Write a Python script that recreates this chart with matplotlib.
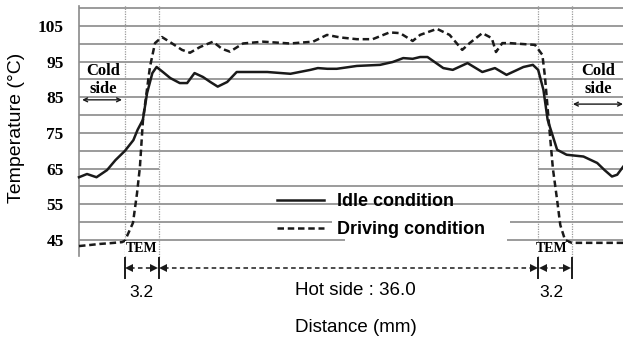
import matplotlib
matplotlib.use("Agg")
import matplotlib.pyplot as plt

# ---------------- data ----------------
# distance (mm, 0 = start of left TEM) and temperature (°C)
idle_x = [-4.36, -3.6, -2.7, -1.7, -0.9, 0.0, 0.8, 1.2, 1.7, 2.1, 2.6, 3.0, 3.6, 4.3,
          5.2, 5.9, 6.6, 7.4, 8.1, 8.8, 9.7, 10.6, 13.5, 15.7, 17.6, 18.3, 19.2, 20.1,
          22.0, 24.2, 25.4, 26.4, 27.3, 28.0, 28.7, 30.2, 31.1, 32.5, 33.9, 35.1, 36.2,
          37.8, 38.7, 39.2, 39.7, 40.1, 41.0, 41.9, 43.5, 44.8, 45.5, 46.2, 46.7, 47.25]
idle_t = [62.6, 63.5, 62.6, 64.6, 67.4, 70.0, 73.0, 75.9, 78.7, 86.2, 91.8, 93.5, 92.1, 90.4,
          89.0, 89.0, 91.8, 90.7, 89.3, 88.0, 89.3, 92.1, 92.1, 91.6, 92.7, 93.2, 93.0, 93.0,
          93.8, 94.1, 94.9, 96.0, 95.8, 96.3, 96.3, 93.2, 92.7, 94.6, 92.1, 93.2, 91.3,
          93.5, 94.1, 92.7, 87.1, 78.7, 70.3, 68.9, 68.4, 66.6, 64.6, 62.8, 63.3, 65.5]

drive_x = [-4.36, -3.32, -2.37, -1.42, -0.28, 0.0, 0.76, 1.14, 1.42, 1.71, 2.37, 2.85, 3.51,
           4.27, 5.41, 6.17, 7.12, 8.35, 9.2, 9.96, 11.2, 13.1, 15.65, 17.84, 19.17, 20.4,
           22.0, 23.5, 25.1, 26.1, 27.3, 28.0, 29.6, 30.8, 32.0, 32.7, 33.9, 34.8, 35.2,
           35.8, 36.5, 38.9, 39.6, 39.85, 40.3, 40.6, 41.0, 41.3, 41.75, 42.4, 47.25]
drive_t = [43.3, 43.6, 43.9, 44.1, 44.4, 44.8, 49.8, 58.0, 65.5, 78.7, 93.5, 100.2, 101.9,
           100.5, 98.3, 97.5, 99.1, 100.6, 98.6, 97.8, 100.1, 100.6, 100.1, 100.6, 102.5, 101.8,
           101.3, 101.3, 103.2, 103.0, 100.8, 102.5, 104.2, 102.5, 98.3, 100.2, 103.0, 101.6, 97.7,
           100.2, 100.2, 99.7, 96.9, 90.7, 75.0, 65.0, 56.2, 49.2, 45.0, 44.2, 44.2]

series_labels = ["Idle condition", "Driving condition"]
ytick_values = [45, 55, 65, 75, 85, 95, 105]
tem_bounds = [0.0, 3.2, 39.2, 42.4]          # TEM / hot side boundaries (mm)
seg_labels = ["3.2", "Hot side : 36.0", "3.2"]

SERIF = ["Liberation Serif", "DejaVu Serif"]
SANS = ["Liberation Sans", "DejaVu Sans"]

# ---------------- figure ----------------
fig = plt.figure(figsize=(6.23, 3.39), dpi=100)
ax = fig.add_axes([79 / 623, 0.2447, 1 - 79 / 623, 0.7365])
XMIN, XMAX = -4.36, 47.25
ax.set_xlim(XMIN, XMAX)
ax.set_ylim(40.5, 110.5)

# horizontal grid lines (some partly missing as in the scan)
grid_c = "#808080"
for lvl in range(70, 111, 5):
    ax.hlines(lvl, XMIN, XMAX, color=grid_c, lw=1.1, zorder=1)
for lvl, segs in {65: [(XMIN, 3.2), (39.2, XMAX)],
                  60: [(XMIN, XMAX)],
                  55: [(XMIN, XMAX)],
                  50: [(XMIN, 19.6), (36.5, XMAX)],
                  45: [(XMIN, 20.9), (36.2, XMAX)]}.items():
    for a, b in segs:
        ax.hlines(lvl, a, b, color=grid_c, lw=1.1, zorder=1)

# vertical dotted boundaries
for xb in tem_bounds:
    ax.plot([xb, xb], [40.2, 110.9], color="#9a9a9a", lw=0.9, ls=(0, (1, 1)),
            zorder=1, clip_on=False)

# curves
l1, = ax.plot(idle_x, idle_t, color="#1a1a1a", lw=1.8, zorder=3,
              solid_joinstyle="round", clip_on=False)
l2, = ax.plot(drive_x, drive_t, color="#1a1a1a", lw=1.8, ls=(0, (2.6, 1.5)), zorder=3,
              clip_on=False)

# axes styling
for s in ["top", "right", "bottom"]:
    ax.spines[s].set_visible(False)
ax.spines["left"].set_color("#8a8a8a")
ax.spines["left"].set_linewidth(1.2)
ax.set_xticks([])
ax.set_yticks(ytick_values)
ax.set_yticklabels([str(v) for v in ytick_values])
ax.tick_params(axis="y", length=0, pad=11)
for lab in ax.get_yticklabels():
    lab.set_fontfamily(SERIF)
    lab.set_fontweight("bold")
    lab.set_fontsize(12.5)

fig.text(17 / 623, 1 - 128 / 339, "Temperature (°C)", rotation=90, ha="center",
         va="center", family=SANS, fontsize=14)

# legend
leg = ax.legend([l1, l2], series_labels, loc="center left",
                bbox_to_anchor=((277 - 79) / 544, 0.162), frameon=False,
                handlelength=2.6, handletextpad=0.75, labelspacing=0.62,
                borderpad=0, borderaxespad=0,
                prop={"family": SANS, "weight": "bold", "size": 13})

# cold side annotations
for xc, (a, b), ya in [(-2.09, (XMIN + 0.3, -0.28), 84.3), (44.9, (42.5, XMAX), 83.1)]:
    ax.text(xc, 89.9, "Cold\nside", ha="center", va="center", family=SERIF,
            fontweight="bold", fontsize=12, linespacing=1.15, zorder=4)
    ax.annotate("", xy=(a, ya), xytext=(b, ya),
                arrowprops=dict(arrowstyle="<->", color="#1a1a1a", lw=1.0,
                                shrinkA=0, shrinkB=0, mutation_scale=7),
                annotation_clip=False)

# TEM labels
for xc, yc in [(1.55, 42.75), (40.45, 42.5)]:
    ax.text(xc, yc, "TEM", ha="center", va="center", family=SERIF, fontweight="bold",
            fontsize=10, zorder=4,
            bbox=dict(facecolor="white", edgecolor="none", pad=0.3))

# dimension arrows below the plot
y_arr = 37.15
for xb in tem_bounds:
    ax.plot([xb, xb], [34.4, 40.0], color="#1a1a1a", lw=1.4, clip_on=False)
segs = [(tem_bounds[0], tem_bounds[1]), (tem_bounds[1], tem_bounds[2]),
        (tem_bounds[2], tem_bounds[3])]
for a, b in segs:
    ax.plot([a + 0.5, b - 0.5], [y_arr, y_arr], color="#1a1a1a", lw=1.1,
            ls=(0, (3, 2.2)), clip_on=False)
    ax.plot([a + 0.42], [y_arr], marker="<", ms=6, color="#1a1a1a", mew=0, clip_on=False)
    ax.plot([b - 0.42], [y_arr], marker=">", ms=6, color="#1a1a1a", mew=0, clip_on=False)

for xc, txt in zip([1.55, 21.9, 40.45], seg_labels):
    ax.text(xc, 30.9 if txt.startswith("Hot") else 30.4, txt, ha="center", va="center",
            family=SANS, fontsize=13.5 if txt.startswith("Hot") else 12.5, clip_on=False)
ax.text(21.9, 20.6, "Distance (mm)", ha="center", va="center", family=SANS,
        fontsize=13.5, clip_on=False)

fig.savefig("out.png", dpi=100)
